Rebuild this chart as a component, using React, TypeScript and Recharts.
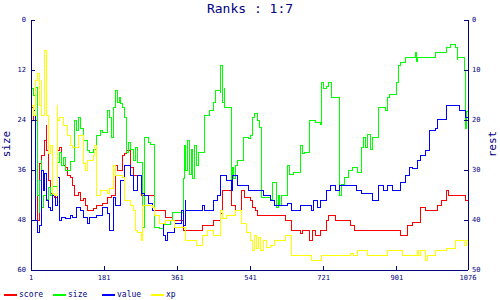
import React from 'react';
import { LineChart, Line, XAxis, YAxis } from 'recharts';

const NAVY = '#000080';
const FONT = '"DejaVu Sans Mono", monospace';

const xTicks = [1, 181, 361, 541, 721, 901, 1076];
const sizeTicks = [0, 12, 24, 36, 48, 60];
const restTicks = [0, 10, 20, 30, 40, 50];

// [step, rank]; size is on the left axis, the rest on the right one
const scorePts = [
  [1, 17.5], [6, 20], [16, 38], [18, 40], [21, 36], [23, 28.6], [28, 27], [33, 24], [38, 21], [40, 26],
  [43, 32], [48, 34.6], [53, 35], [60, 35.4], [67, 26], [72, 25.4], [77, 29], [85, 29.4], [92, 31],
  [97, 31.4], [104, 33], [109, 35], [117, 34.4], [122, 36], [129, 35.6], [134, 37], [141, 38],
  [154, 37.6], [163, 37], [178, 36.6], [188, 35.4], [200, 35], [208, 29], [213, 30], [225, 27],
  [232, 26.6], [237, 26], [245, 29.4], [252, 31], [262, 32], [264, 31], [272, 35], [306, 38],
  [331, 39.4], [350, 40], [375, 42], [424, 41], [449, 40], [466, 38.6], [471, 34], [493, 37],
  [503, 38], [518, 34], [527, 35.5], [540, 36], [545, 37.4], [554, 38], [557, 39], [626, 40],
  [641, 42], [665, 42.6], [670, 42], [687, 44], [693, 42], [700, 43], [712, 42], [727, 40],
  [732, 39], [751, 40], [786, 41], [798, 42], [884, 42], [911, 43], [928, 41], [940, 40.4],
  [958, 38], [960, 37.4], [972, 38], [1002, 37], [1010, 36], [1024, 34], [1027, 35], [1071, 36],
  [1076, 35.5],
];

const sizePts = [
  [1, 16.5], [6, 18], [11, 16.1], [16, 17.5], [18, 42], [21, 46.3], [23, 38.4], [26, 33.6], [28, 45],
  [31, 42], [38, 43], [43, 40.1], [48, 42], [53, 41], [55, 40], [67, 34.3], [72, 31.9], [77, 35],
  [80, 33], [85, 36], [97, 34], [109, 24], [114, 26.4], [117, 23.3], [122, 26], [129, 28.8],
  [139, 31.2], [146, 31.7], [154, 31], [163, 27.6], [171, 26.4], [178, 27], [188, 21.6], [193, 23.3],
  [200, 28.1], [203, 20.9], [208, 16.8], [213, 19.9], [218, 18.7], [222, 20], [225, 21], [232, 23.3],
  [237, 31.9], [240, 29.5], [245, 31], [252, 33.6], [257, 30.7], [262, 34], [264, 34.3], [276, 49.7],
  [281, 28.1], [289, 29.5], [294, 29.8], [304, 49.7], [318, 50], [326, 49], [343, 48], [350, 46.1],
  [375, 38], [378, 30], [382, 36], [385, 29], [390, 37], [395, 31], [399, 38], [404, 30], [409, 35],
  [412, 31.9], [417, 31.7], [429, 23], [441, 21.6], [449, 19.9], [456, 17], [466, 17.3], [468, 10.8],
  [471, 14], [473, 19.9], [476, 16.5], [478, 21], [493, 39], [496, 35.3], [500, 38], [503, 35],
  [510, 33.6], [523, 28.1], [535, 28.5], [542, 27.6], [547, 23.3], [552, 22.5], [557, 24], [564, 25.7],
  [567, 42.7], [589, 43], [596, 39.1], [604, 44.9], [609, 42], [612, 44.5], [616, 42], [633, 34.8],
  [638, 37], [646, 36.5], [665, 30], [670, 32], [675, 31.9], [687, 24], [700, 24.5], [712, 25],
  [715, 14.9], [720, 16.5], [727, 16], [732, 14.9], [739, 18.7], [759, 42], [764, 39.5], [771, 37.7],
  [781, 36], [791, 35.5], [805, 36.5], [813, 30.7], [818, 28.1], [825, 30.5], [830, 27.5], [835, 31],
  [842, 28.1], [857, 21.1], [872, 21.6], [879, 18.7], [884, 17.8], [901, 14.9], [904, 10.8],
  [909, 10.1], [923, 9.1], [948, 7.7], [950, 10], [953, 8.9], [997, 7.7], [1022, 6.7], [1032, 5.8],
  [1046, 6.7], [1049, 9.5], [1051, 9.1], [1068, 12], [1070, 20], [1071, 26], [1073, 22], [1076, 24],
];

const valuePts = [
  [1, 17], [8, 18], [11, 40], [16, 42.4], [21, 41], [28, 30], [31, 34], [35, 30.6], [40, 36], [43, 37.4],
  [50, 38], [55, 35], [62, 37], [67, 31.4], [72, 40], [77, 39.4], [85, 39.6], [97, 39], [104, 39.4],
  [114, 37.4], [122, 38], [129, 39.4], [139, 40.6], [146, 39.4], [163, 39], [178, 37.4], [188, 38.6],
  [195, 42], [203, 35.4], [210, 37], [220, 32], [232, 29], [245, 31], [252, 34], [262, 31], [272, 34.6],
  [281, 35], [289, 36.6], [300, 38], [306, 39], [318, 40.6], [326, 43], [331, 44], [338, 42.4],
  [355, 40.6], [370, 38], [375, 41], [380, 36], [382, 38], [424, 37], [429, 38], [449, 36], [461, 35],
  [468, 31], [481, 32], [493, 34], [496, 31], [510, 33], [535, 34], [572, 35], [589, 36], [601, 37],
  [633, 36.6], [641, 38], [665, 37], [690, 38], [695, 36], [707, 37.4], [712, 36], [727, 34], [737, 33],
  [751, 34], [761, 33], [801, 34], [813, 34.6], [842, 36], [857, 33], [867, 34], [879, 33], [891, 34],
  [911, 32.4], [923, 31], [933, 29.4], [940, 29.6], [953, 28], [960, 27], [972, 26], [982, 22],
  [995, 21.6], [1002, 19.8], [1024, 17], [1056, 18], [1071, 19.5], [1076, 19],
];

const xpPts = [
  [1, 17], [6, 19], [11, 14], [13, 12], [18, 10.6], [23, 17], [26, 12], [28, 19], [33, 6], [38, 10],
  [40, 19], [43, 26.6], [48, 25], [53, 34.6], [60, 35], [65, 17], [67, 20], [72, 19.4], [80, 21],
  [90, 23], [97, 25], [104, 25.4], [117, 23], [129, 28.6], [134, 30], [141, 28], [154, 27], [158, 25],
  [163, 35], [171, 34], [188, 34.6], [195, 33.6], [203, 29], [210, 31], [225, 31.4], [232, 36],
  [245, 37], [252, 38], [257, 42], [264, 42.4], [272, 44], [276, 37], [300, 37.4], [306, 39],
  [318, 40.6], [331, 40], [355, 41.4], [380, 44], [409, 45], [424, 43], [436, 42], [449, 43], [466, 38],
  [473, 39.6], [481, 39], [503, 38], [518, 40.6], [530, 42.4], [540, 44], [545, 46], [550, 43],
  [555, 45.6], [560, 43.5], [565, 46], [572, 44], [580, 45.5], [589, 45], [601, 44], [626, 43],
  [641, 47], [690, 48], [715, 47], [786, 46.6], [795, 47], [805, 46], [830, 47], [879, 46], [916, 47],
  [953, 46], [955, 47], [960, 46], [972, 48], [977, 47], [997, 46], [1022, 45.6], [1046, 44],
  [1068, 45], [1073, 44], [1076, 44],
];

const toRows = (pts: number[][]) => pts.map(([x, y]) => ({ x, y }));

const series = [
  { name: 'score', color: '#ff0000', axis: 'rest', pts: scorePts },
  { name: 'size', color: '#00ff00', axis: 'size', pts: sizePts },
  { name: 'value', color: '#0000ff', axis: 'rest', pts: valuePts },
  { name: 'xp', color: '#ffff00', axis: 'rest', pts: xpPts },
];

const tickStyle = { fill: NAVY, fontSize: 7, fontFamily: FONT };

export default function App() {
  return (
    <div style={{ position: 'absolute', left: 0, top: 0, width: 500, height: 300, background: '#fff', fontFamily: FONT }}>
      <style>{`.recharts-curve, .recharts-cartesian-axis-line, .recharts-cartesian-axis-tick-line { shape-rendering: crispEdges; }`}</style>
      <div style={{ position: 'absolute', left: 0, top: 1, width: 500, textAlign: 'center', color: NAVY, fontSize: 13, lineHeight: '16px' }}>
        Ranks : 1:7
      </div>
      <div style={{ position: 'absolute', left: -8, top: 137, width: 30, textAlign: 'center', color: NAVY, fontSize: 11, transform: 'rotate(-90deg)', lineHeight: '14px' }}>
        size
      </div>
      <div style={{ position: 'absolute', left: 478, top: 137, width: 30, textAlign: 'center', color: NAVY, fontSize: 11, transform: 'rotate(-90deg)', lineHeight: '14px' }}>
        rest
      </div>
      <LineChart width={500} height={300} margin={{ top: 20, right: 0, left: 0, bottom: 0 }}>
        <XAxis
          dataKey="x"
          type="number"
          domain={[1, 1076]}
          ticks={xTicks}
          height={30}
          stroke={NAVY}
          tickSize={-4}
          tickMargin={9}
          tick={tickStyle}
          interval={0}
          allowDataOverflow
        />
        <YAxis
          yAxisId="size"
          domain={[0, 60]}
          ticks={sizeTicks}
          reversed
          width={31}
          stroke={NAVY}
          tickSize={-4}
          tickMargin={9}
          tick={tickStyle}
          interval={0}
          allowDataOverflow
        />
        <YAxis
          yAxisId="rest"
          orientation="right"
          domain={[0, 50]}
          ticks={restTicks}
          reversed
          width={32}
          stroke={NAVY}
          tickSize={-4}
          tickMargin={8}
          tick={{ ...tickStyle, textAnchor: 'start' }}
          interval={0}
          allowDataOverflow
        />
        {series.map((s) => (
          <Line
            key={s.name}
            yAxisId={s.axis}
            data={toRows(s.pts)}
            dataKey="y"
            name={s.name}
            type="stepAfter"
            stroke={s.color}
            strokeWidth={1}
            dot={false}
            activeDot={false}
            isAnimationActive={false}
          />
        ))}
      </LineChart>
      <svg width={500} height={20} style={{ position: 'absolute', left: 0, top: 284 }}>
        {series.map((s, i) => {
          const lx = [4, 53, 102, 151][i];
          return (
            <g key={s.name}>
              <rect x={lx} y={10} width={13} height={2} fill={s.color} />
              <text x={lx + 15} y={13} fontSize={8} fill={NAVY} fontFamily={FONT}>{s.name}</text>
            </g>
          );
        })}
      </svg>
    </div>
  );
}
